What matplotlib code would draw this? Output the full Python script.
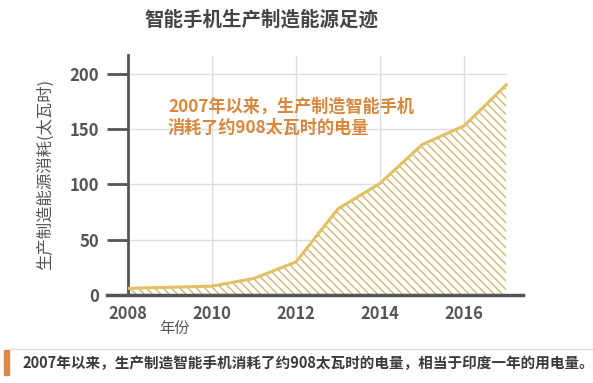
import matplotlib
matplotlib.use("Agg")
import matplotlib.pyplot as plt

plt.rcParams['font.family'] = ['Noto Sans CJK SC', 'DejaVu Sans']
plt.rcParams['hatch.linewidth'] = 1.0

# data
years = [2008, 2009, 2010, 2011, 2012, 2013, 2014, 2015, 2016, 2017]
energy = [6, 7, 8, 15, 30, 78, 101, 136, 153, 190]
xticks = [2008, 2010, 2012, 2014, 2016]
yticks = [0, 50, 100, 150, 200]

title = "智能手机生产制造能源足迹"
ylabel = "生产制造能源消耗(太瓦时)"
xlabel = "年份"
note = "2007年以来，生产制造智能手机\n消耗了约908太瓦时的电量"
caption = "2007年以来，生产制造智能手机消耗了约908太瓦时的电量，相当于印度一年的用电量。"

gold = "#e2c063"
hatch_col = "#cdb874"
orange = "#d8873c"
gray = "#555555"

fig = plt.figure(figsize=(5.93, 3.83), dpi=100)
ax = fig.add_axes([128/593, 1-295/383, (523-128)/593, (295-55)/383])

# grid
for y in yticks[1:]:
    ax.hlines(y, 2008, 2017, color="#dddddd", lw=1, zorder=0)
for x in xticks[1:]:
    ax.vlines(x, 0, 217, color="#dddddd", lw=1, zorder=0)

ax.fill_between(years, energy, 0, facecolor="white", edgecolor=hatch_col,
                hatch="\\\\\\\\", linewidth=0, zorder=1)
ax.plot(years, energy, color=gold, lw=2.2, zorder=3)

ax.set_xlim(2008, 2017.4)
ax.set_ylim(0, 217)
ax.set_xticks(xticks)
ax.set_yticks(yticks)
for s in ["top", "right"]:
    ax.spines[s].set_visible(False)
ax.spines["left"].set_color(gray)
ax.spines["left"].set_linewidth(2)
ax.spines["bottom"].set_color(gray)
ax.spines["bottom"].set_linewidth(2.5)
ax.spines["bottom"].set_bounds(2008 - 21/42, 2017.4)
ax.tick_params(axis="y", length=15, width=2, color=gray, pad=6,
               labelsize=12, labelcolor=gray)
ax.tick_params(axis="x", length=0, pad=7, labelsize=11.8, labelcolor=gray)
for lab in ax.get_xticklabels() + ax.get_yticklabels():
    lab.set_fontweight("bold")

ax.text(168/593, 1-117/383, note, transform=fig.transFigure, color=orange,
        fontsize=12.3, fontweight="bold", va="center", ha="left", linespacing=1.25)

fig.text(261/593, 1-20/383, title, ha="center", va="center", fontsize=14,
         fontweight="bold", color="#444444")
fig.text(45/593, 1-174/383, ylabel, rotation=90, ha="center", va="center",
         fontsize=11.8, color=gray)
fig.text(174/593, 1-328/383, xlabel, ha="center", va="center",
         fontsize=11, color=gray)

# bottom caption
fig.add_artist(plt.Line2D([10/593, 1], [1-349/383, 1-349/383],
                          color="#dddddd", lw=1, transform=fig.transFigure))
fig.add_artist(plt.Rectangle((4/593, 1-375/383), 5/593, 25/383,
                             color="#d9894a", transform=fig.transFigure))
fig.text(22/593, 1-363/383, caption, ha="left", va="center",
         fontsize=10.5, fontweight="bold", color="#3a3a3a")

fig.savefig("out.png", dpi=100)
